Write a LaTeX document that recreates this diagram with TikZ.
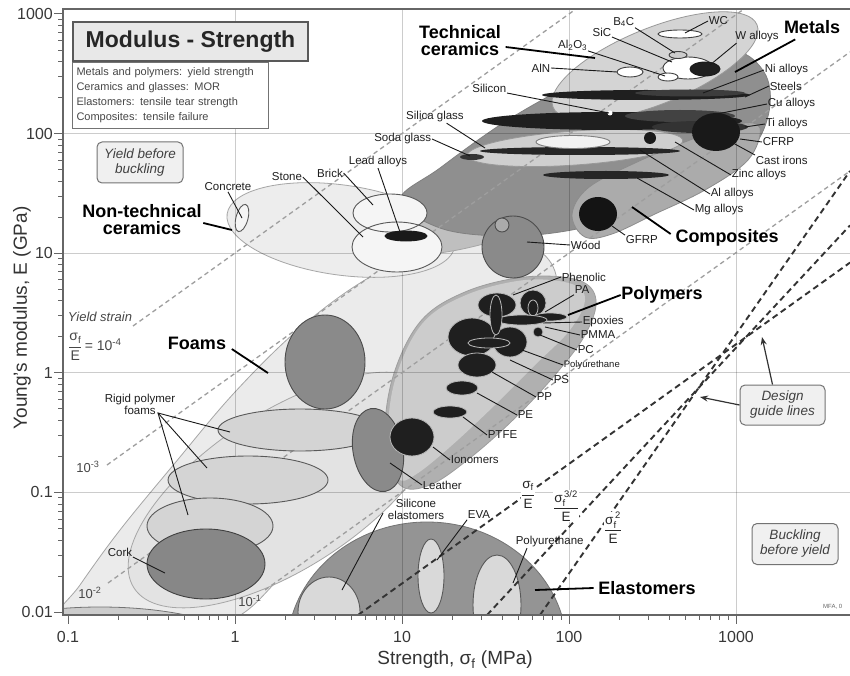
\documentclass[tikz,border=0pt]{standalone}
\usepackage{amsmath}
\usepackage{fontspec}
\setmainfont{Liberation Sans}
\usetikzlibrary{arrows.meta}
\newcommand\mysig{\text{σ}}
\newcommand\myell[6][]{\path[#1, rotate around={#6:(#2,#3)}] (#2,#3) ellipse [x radius=#4, y radius=#5];}
\begin{document}
\begin{tikzpicture}[x=1pt,y=-1pt,
  lbl/.style={font=\fontsize{11.5}{12}\selectfont, inner sep=0.6pt, text=black!88},
  slbl/.style={font=\fontsize{9.5}{10}\selectfont, inner sep=0.6pt, text=black!88},
  grp/.style={font=\fontsize{18}{17}\selectfont\bfseries, inner sep=0.6pt, align=center},
  ldr/.style={line width=0.9pt, draw=black!90},
  gldr/.style={line width=1.8pt, draw=black},
  envl/.style={draw=black!35, line width=0.8pt},
  memb/.style={draw=black!65, line width=0.9pt},
  poly/.style={fill=black!88, draw=black!28, line width=0.8pt},
  gridln/.style={draw=black, draw opacity=0.2, line width=0.9pt},
  ylines/.style={draw=black!38, line width=1.3pt, dash pattern=on 4.5pt off 3.5pt},
  design/.style={draw=black!80, line width=1.9pt, dash pattern=on 6pt off 4pt},
  infobox/.style={draw=black!55, line width=1pt, rounded corners=5pt, fill=black!6,
     font=\fontsize{13.5}{15}\selectfont\itshape, text=black!75, align=center,
     minimum width=86pt, minimum height=41pt, inner sep=1pt},
  ticklbl/.style={font=\fontsize{16}{18}\selectfont, inner sep=0pt, text=black!78},
  fraclbl/.style={font=\fontsize{13.5}{14}\selectfont, inner sep=0pt, text=black!85},
  yl/.style={font=\fontsize{13}{14}\selectfont, inner sep=0pt, text=black!72},
]
\useasboundingbox (0,0) rectangle (850,676);
\fill[white] (0,0) rectangle (850,676);

\begin{scope}
\clip (63,9) rectangle (850,615);
% ---------------- envelopes
\path[envl, fill=black!8] plot[smooth cycle, tension=0.6] coordinates {(56,622) (80,585) (120,530) (175,463) (235,392) (300,328) (365,280) (430,250) (490,238) (535,248) (556,275) (550,315) (520,360) (478,412) (393,482) (300,558) (245,612) (200,628) (120,628)};
\myell[envl, draw=black!55, fill=black!20]{100}{652}{150}{45}{0}
\myell[envl, fill=black!11]{285}{490}{180}{78}{33}
\myell[envl, fill=black!7]{341}{230}{115}{45}{-8}
\myell[envl, fill=black!25]{500}{212}{112}{26}{18}
\path[envl, draw=black!50, fill=black!44] plot[smooth cycle, tension=0.6] coordinates {(400,200) (440,168) (500,125) (560,90) (615,62) (675,47) (735,50) (764,72) (770,105) (757,142) (725,172) (680,197) (620,218) (560,232) (500,236) (440,228)};
\myell[envl, draw=black!40, fill=black!17]{655}{66}{110}{38}{22}
\path[envl, draw=black!45, fill=black!33] plot[smooth cycle, tension=0.6] coordinates {(572,215) (588,188) (635,163) (690,140) (738,124) (760,128) (748,160) (705,190) (655,214) (612,234) (585,237)};
\myell[envl, draw=black!40, fill=black!19]{575}{148}{108}{17}{4}
\path[envl, draw=black!38, fill=black!31] plot[smooth cycle, tension=0.6] coordinates {(385,445) (392,380) (420,322) (465,292) (525,277) (578,280) (596,300) (585,335) (555,375) (515,418) (470,458) (430,485) (400,485)};
\path[fill=black!20] plot[smooth cycle, tension=0.6] coordinates {(388,440) (395,380) (422,324) (466,295) (525,280) (572,284) (585,300) (570,330) (535,365) (495,405) (450,447) (415,475) (398,478)};
\myell[envl, draw=black!55, fill=black!42]{427}{650}{140}{128}{0}
% ---------------- grid
\foreach \gx in {235,402,569,736} \draw[gridln] (\gx,9) -- (\gx,615);
\foreach \gy in {133.6,253.2,372.8,492.4} \draw[gridln] (63,\gy) -- (850,\gy);
% ---------------- yield strain lines
\draw[ylines] (133,326) -- (576,9);
\draw[ylines] (107,465) -- (744,9);
\draw[ylines] (108,583) -- (850,52);
\draw[ylines] (265,590) -- (850,171);
% ---------------- foams
\myell[memb, draw=black!70, fill=black!46]{325}{362}{40}{47}{0}
\myell[memb, fill=black!17]{300}{430}{82}{21}{0}
\myell[memb, fill=black!17]{248}{480}{80}{24}{0}
\myell[memb, fill=black!17]{210}{526}{63}{28}{0}
\myell[memb, draw=black!75, fill=black!47]{206}{564}{59}{35}{0}
% ---------------- non-technical ceramics
\myell[memb, fill=black!4]{242}{218}{6}{14}{-15}
\myell[fill=black!4]{390}{213}{37}{19}{0}
\myell[fill=black!4]{397}{247}{45}{25}{0}
\myell[memb, fill=none]{390}{213}{37}{19}{0}
\myell[memb, fill=none]{397}{247}{45}{25}{0}
\myell[memb, draw=black!90, fill=black!90]{406}{236}{21}{5}{0}
% ---------------- wood
\myell[memb, draw=black!70, fill=black!46]{513}{247}{31}{31}{0}
\myell[memb, draw=black!70, fill=black!33]{502}{225}{7}{7}{0}
% ---------------- technical ceramics
\myell[memb, draw=black!75, fill=white]{680}{34}{22}{4}{0}
\myell[memb, draw=black!75, fill=white]{688}{68}{25}{11}{0}
\myell[memb, draw=black!75, fill=black!20]{678}{55}{9}{3.5}{0}
\myell[memb, draw=black!75, fill=white]{668}{77}{10}{4}{0}
\myell[memb, draw=black!75, fill=white]{630}{72}{13}{5}{0}
\myell[memb, draw=black!90, fill=black!88]{705}{69}{15}{7}{0}
% ---------------- metals and glasses
\myell[fill=black!88]{646}{95}{104}{5}{0}
\myell[fill=black!76]{690}{93}{55}{3.5}{0}
\myell[fill=black!88]{612}{121}{130}{9}{0}
\myell[fill=black!74]{680}{116}{55}{6}{0}
\myell[fill=black!80]{700}{127}{48}{6}{0}
\myell[fill=black!90]{716}{132}{24}{19}{0}
\myell[fill=black!85]{580}{151}{100}{4}{0}
\myell[memb, draw=black!50, fill=black!5]{573}{142}{37}{6.5}{0}
\myell[fill=black!90]{650}{138}{6}{6}{0}
\myell[fill=black!80]{472}{157}{12}{3}{0}
\myell[fill=black!85]{606}{175}{63}{4}{0}
\myell[fill=black!92]{598}{214}{19}{17}{0}
\fill[white] (610,113) circle (2.5);
% ---------------- polymers
\myell[poly]{472}{337}{24}{19}{0}
\myell[poly]{510}{342}{17}{15}{0}
\myell[poly]{497}{305}{19}{12}{0}
\myell[poly]{533}{303}{13}{13}{0}
\myell[poly]{533}{308}{5}{8}{0}
\myell[poly]{550}{317}{17}{4}{0}
\myell[poly]{522}{320}{25}{5}{0}
\myell[poly]{496}{315}{6}{20}{0}
\myell[poly]{489}{343}{21}{5}{0}
\myell[poly]{538}{332}{5}{5}{0}
\myell[poly]{477}{365}{19}{12}{0}
\myell[poly]{462}{388}{16}{7}{0}
\myell[poly]{450}{412}{17}{6}{0}
\myell[memb, draw=black!70, fill=black!46]{378}{450}{25}{42}{10}
\myell[poly]{412}{437}{22}{19}{0}
% ---------------- elastomers
\myell[memb, fill=black!15]{329}{612}{31}{35}{0}
\myell[memb, fill=black!15]{431}{576}{13}{37}{0}
\myell[memb, fill=black!15]{497}{605}{24}{50}{0}
% ---------------- design guide lines
\draw[design] (358,615) -- (850,262.6);
\draw[design] (487,615) -- (850,225.4);
\draw[design] (540,615) -- (850,171);
\end{scope}

% ---------------- group labels
\node[grp] (gTech) at (460,41) {Technical\\ceramics};
\coordinate (eTech) at (595,58);
\draw[gldr] ([shift={(4,6)}]gTech.east) -- (eTech);
\node[grp] (gMet) at (812,27) {Metals};
\coordinate (eMet) at (735,72);
\draw[gldr] ([shift={(12,5)}]gMet.south west) -- (eMet);
\node[grp] (gComp) at (727,238) {Composites};
\coordinate (eComp) at (632,207);
\draw[gldr] ([shift={(-4,-4)}]gComp.west) -- (eComp);
\node[grp] (gPol) at (662,295) {Polymers};
\coordinate (ePol) at (568,315);
\draw[gldr] (gPol.west) -- (ePol);
\node[grp] (gEla) at (647,588) {Elastomers};
\coordinate (eEla) at (535,590);
\draw[gldr] ([xshift=-4pt]gEla.west) -- (eEla);
\node[grp] (gFoam) at (197,343) {Foams};
\coordinate (eFoam) at (268,373);
\draw[gldr] ([shift={(5,6)}]gFoam.east) -- (eFoam);
\node[grp] (gNon) at (142,220) {Non-technical\\ceramics};
\coordinate (eNon) at (232,230);
\draw[gldr] ([shift={(1,3)}]gNon.east) -- (eNon);

% ---------------- technical ceramics labels
\node[lbl, anchor=west] (tWC) at (708,21) {WC};
\coordinate (cWC) at (685,33);
\draw[ldr] (tWC.west) -- (cWC);
\node[lbl, anchor=east] (tB4C) at (635,22) {B\textsubscript{4}C};
\coordinate (cB4C) at (675,53);
\draw[ldr] (tB4C.south east) -- (cB4C);
\node[lbl, anchor=east] (tSiC) at (612,32) {SiC};
\coordinate (cSiC) at (672,62);
\draw[ldr] (tSiC.south east) -- (cSiC);
\node[lbl, anchor=east] (tAlO) at (588,45) {Al\textsubscript{2}O\textsubscript{3}};
\coordinate (cAlO) at (665,76);
\draw[ldr] (tAlO.south east) -- (cAlO);
\node[lbl, anchor=east] (tAlN) at (551,68) {AlN};
\coordinate (cAlN) at (617,72);
\draw[ldr] (tAlN.east) -- (cAlN);
\node[lbl, anchor=east] (tSi) at (507,88) {Silicon};
\coordinate (cSi) at (609,113);
\draw[ldr] (tSi.south east) -- (cSi);
\node[lbl] (tSilica) at (435,117) {Silica glass};
\coordinate (cSilica) at (485,148);
\draw[ldr] ([xshift=-18pt]tSilica.south east) -- (cSilica);
\node[lbl, anchor=east] (tSoda) at (432,139) {Soda glass};
\coordinate (cSoda) at (470,156);
\draw[ldr] (tSoda.east) -- (cSoda);

% ---------------- metals labels
\node[lbl] (tWal) at (757,37) {W alloys};
\coordinate (cWal) at (710,65);
\draw[ldr] ([xshift=2pt]tWal.south west) -- (cWal);
\node[lbl, anchor=west] (tNi) at (764,70) {Ni alloys};
\coordinate (cNi) at (703,93);
\draw[ldr] (tNi.west) -- (cNi);
\node[lbl, anchor=west] (tSteel) at (769,86) {Steels};
\coordinate (cSteel) at (745,97);
\draw[ldr] (tSteel.west) -- (cSteel);
\node[lbl, anchor=west] (tCu) at (767,104) {Cu alloys};
\coordinate (cCu) at (712,115);
\draw[ldr] (tCu.west) -- (cCu);
\node[lbl, anchor=west] (tTi) at (765,124) {Ti alloys};
\coordinate (cTi) at (745,127);
\draw[ldr] (tTi.west) -- (cTi);
\node[lbl, anchor=west] (tCFRP) at (762,142) {CFRP};
\coordinate (cCFRP) at (740,139);
\draw[ldr] (tCFRP.west) -- (cCFRP);
\node[lbl, anchor=west] (tCast) at (755,160) {Cast irons};
\coordinate (cCast) at (733,143);
\draw[ldr] (tCast.north west) -- (cCast);
\node[lbl, anchor=west] (tZn) at (731,175) {Zinc alloys};
\coordinate (cZn) at (675,142);
\draw[ldr] (tZn.west) -- (cZn);
\node[lbl, anchor=west] (tAl) at (710,194) {Al alloys};
\coordinate (cAl) at (640,150);
\draw[ldr] (tAl.west) -- (cAl);
\node[lbl, anchor=west] (tMg) at (694,210) {Mg alloys};
\coordinate (cMg) at (637,178);
\draw[ldr] (tMg.west) -- (cMg);
\node[lbl, anchor=west] (tGFRP) at (625,240) {GFRP};
\coordinate (cGFRP) at (612,226);
\draw[ldr] (tGFRP.north west) -- (cGFRP);
\node[lbl, anchor=west] (tWood) at (570,245) {Wood};
\coordinate (cWood) at (527,242);
\draw[ldr] (tWood.west) -- (cWood);

% ---------------- polymer labels
\node[lbl, anchor=west] (tPhen) at (561,277) {Phenolic};
\coordinate (cPhen) at (513,295);
\draw[ldr] (tPhen.west) -- (cPhen);
\node[lbl, anchor=west] (tPA) at (574,290) {PA};
\coordinate (cPA) at (545,312);
\draw[ldr] (tPA.south west) -- (cPA);
\node[lbl, anchor=west] (tEpo) at (582,322) {Epoxies};
\coordinate (cEpo) at (543,323);
\draw[ldr] (tEpo.west) -- (cEpo);
\node[lbl, anchor=west] (tPMMA) at (580,335) {PMMA};
\coordinate (cPMMA) at (545,327);
\draw[ldr] (tPMMA.west) -- (cPMMA);
\node[lbl, anchor=west] (tPC) at (577,350) {PC};
\coordinate (cPC) at (540,335);
\draw[ldr] (tPC.west) -- (cPC);
\node[slbl, anchor=west] (tPU) at (563,365) {Polyurethane};
\coordinate (cPU) at (522,350);
\draw[ldr] (tPU.west) -- (cPU);
\node[lbl, anchor=west] (tPS) at (553,380) {PS};
\coordinate (cPS) at (510,360);
\draw[ldr] (tPS.west) -- (cPS);
\node[lbl, anchor=west] (tPP) at (536,397) {PP};
\coordinate (cPP) at (492,372);
\draw[ldr] (tPP.west) -- (cPP);
\node[lbl, anchor=west] (tPE) at (517,415) {PE};
\coordinate (cPE) at (477,393);
\draw[ldr] (tPE.west) -- (cPE);
\node[lbl, anchor=west] (tPTFE) at (487,435) {PTFE};
\coordinate (cPTFE) at (463,417);
\draw[ldr] (tPTFE.west) -- (cPTFE);
\node[lbl, anchor=west] (tIon) at (450,460) {Ionomers};
\coordinate (cIon) at (433,447);
\draw[ldr] (tIon.west) -- (cIon);
\node[lbl, anchor=west] (tLea) at (422,485) {Leather};
\coordinate (cLea) at (390,463);
\draw[ldr] (tLea.west) -- (cLea);

% ---------------- elastomer labels
\node[lbl, align=center, font=\fontsize{11.5}{12}\selectfont] (tSil) at (416,509) {Silicone\\elastomers};
\coordinate (cSil) at (342,590);
\draw[ldr] ([shift={(-4,4)}]tSil.west) -- (cSil);
\node[lbl] (tEVA) at (479,515) {EVA};
\coordinate (cEVA) at (437,560);
\draw[ldr] (tEVA.south west) -- (cEVA);
\node[lbl, anchor=west] (tPUe) at (515,542) {Polyurethane};
\coordinate (cPUe) at (513,583);
\draw[ldr] ([xshift=12pt]tPUe.south west) -- (cPUe);

% ---------------- non-technical ceramics & foams labels
\node[lbl] (tConc) at (228,187) {Concrete};
\coordinate (cConc) at (242,218);
\draw[ldr] (tConc.south) -- (cConc);
\node[lbl] (tStone) at (287,177) {Stone};
\coordinate (cStone) at (363,237);
\draw[ldr] (tStone.east) -- (cStone);
\node[lbl] (tBrick) at (330,173) {Brick};
\coordinate (cBrick) at (373,205);
\draw[ldr] (tBrick.east) -- (cBrick);
\node[lbl] (tLead) at (378,162) {Lead alloys};
\coordinate (cLead) at (400,232);
\draw[ldr] (tLead.south) -- (cLead);
\node[lbl, align=center, font=\fontsize{11.5}{12}\selectfont] (tRig) at (140,404) {Rigid polymer\\foams};
\coordinate (apex) at (158,413);
\coordinate (cRig1) at (230,432);
\coordinate (cRig2) at (207,468);
\coordinate (cRig3) at (188,515);
\draw[ldr] (cRig1) -- (apex) -- (cRig3);
\draw[ldr] (apex) -- (cRig2);
\node[lbl] (tCork) at (120,552) {Cork};
\coordinate (cCork) at (165,573);
\draw[ldr] (tCork.south east) -- (cCork);

% ---------------- yield strain labels
\node[yl, font=\fontsize{13}{14}\selectfont\itshape] (ys) at (100,317) {Yield strain};
\node[yl, anchor=west, font=\fontsize{14}{15}\selectfont] (y4) at (68,347) {$\dfrac{\mysig_{\text{f}}}{\text{E}}$\,= 10\textsuperscript{-4}};
\node[yl] (y3) at (88,467) {10\textsuperscript{-3}};
\node[yl] (y2) at (90,593) {10\textsuperscript{-2}};
\node[yl] (y1) at (250,601) {10\textsuperscript{-1}};

% ---------------- design line labels
\node[fraclbl, fill=white] (fa) at (528,495) {$\dfrac{\mysig_{\text{f}}}{\text{E}}$};
\node[fraclbl, fill=white] (fb) at (566,506) {$\dfrac{\mysig_{\text{f}}^{\,\text{3/2}}}{\text{E}}$};
\node[fraclbl, fill=white] (fc) at (613,528) {$\dfrac{\mysig_{\text{f}}^{\,\text{2}}}{\text{E}}$};

% ---------------- boxes
\node[infobox] (bYield) at (140,162.5) {Yield before\\buckling};
\node[infobox, minimum width=85pt, minimum height=40pt] (bDesign) at (782.5,405) {Design\\guide lines};
\node[infobox] (bBuck) at (795,544) {Buckling\\before yield};
\coordinate (aD1) at (762,337);
\coordinate (aD2) at (700,397);
\draw[-{Stealth[length=8pt,width=6pt]}, line width=1.2pt, black!80] ([xshift=-10pt]bDesign.north) -- (aD1);
\draw[-{Stealth[length=8pt,width=6pt]}, line width=1.2pt, black!80] (bDesign.west) -- (aD2);

\node[draw=black!55, line width=1pt, fill=white, anchor=north west, minimum width=196pt, minimum height=66pt, text width=188pt, align=left, font=\fontsize{11}{15}\selectfont, text=black!72, inner sep=4pt] (sub) at (72,62) {Metals and polymers: yield strength\\Ceramics and glasses: MOR\\Elastomers: tensile tear strength\\Composites: tensile failure};
\node[draw=black!65, line width=1.8pt, fill=black!9, minimum width=235pt, minimum height=39pt, inner sep=0, font=\fontsize{23}{24}\selectfont\bfseries, text=black!85] (title) at (190.5,41.5) {Modulus - Strength};

\node[font=\fontsize{6}{7}\selectfont, text=black!60, anchor=west, inner sep=0] (mfa) at (823,607) {MFA, 0};

% ---------------- axes
\draw[black!60, line width=1.3pt] (850,9) -- (63,9) -- (63,615) -- (850,615);
\foreach \d in {0,...,5} {\pgfmathsetmacro\yy{612-119.6*\d}\draw[black!60, line width=1pt] (54,\yy) -- (63,\yy);}
\foreach \d in {-2,...,2} {\foreach \k in {2,...,9} {\pgfmathsetmacro\yy{612-119.6*(\d+2+log10(\k))}\draw[black!60, line width=0.8pt] (58,\yy) -- (63,\yy);}}
\foreach \d in {0,...,4} {\pgfmathsetmacro\xx{68+167*\d}\draw[black!60, line width=1pt] (\xx,615) -- (\xx,624);}
\foreach \d in {0,...,3} {\foreach \k in {2,...,9} {\pgfmathsetmacro\xx{68+167*(\d+log10(\k))}\ifdim\xx pt<849pt \draw[black!60, line width=0.8pt] (\xx,615) -- (\xx,620);\fi}}
\foreach \v/\lab in {0/0.01,1/0.1,2/1,3/10,4/100,5/1000} \node[ticklbl, anchor=east] (yt\v) at (53,{612-119.6*\v}) {\lab};
\foreach \v/\lab in {0/0.1,1/1,2/10,3/100,4/1000} \node[ticklbl] (xt\v) at ({68+167*\v},637) {\lab};
\node[rotate=90, font=\fontsize{19}{20}\selectfont, text=black!80] (ytitle) at (22,318) {Young's modulus, E (GPa)};
\node[font=\fontsize{19}{20}\selectfont, text=black!80] (xtitle) at (455,660) {Strength, σ\textsubscript{f} (MPa)};
\end{tikzpicture}
\end{document}
